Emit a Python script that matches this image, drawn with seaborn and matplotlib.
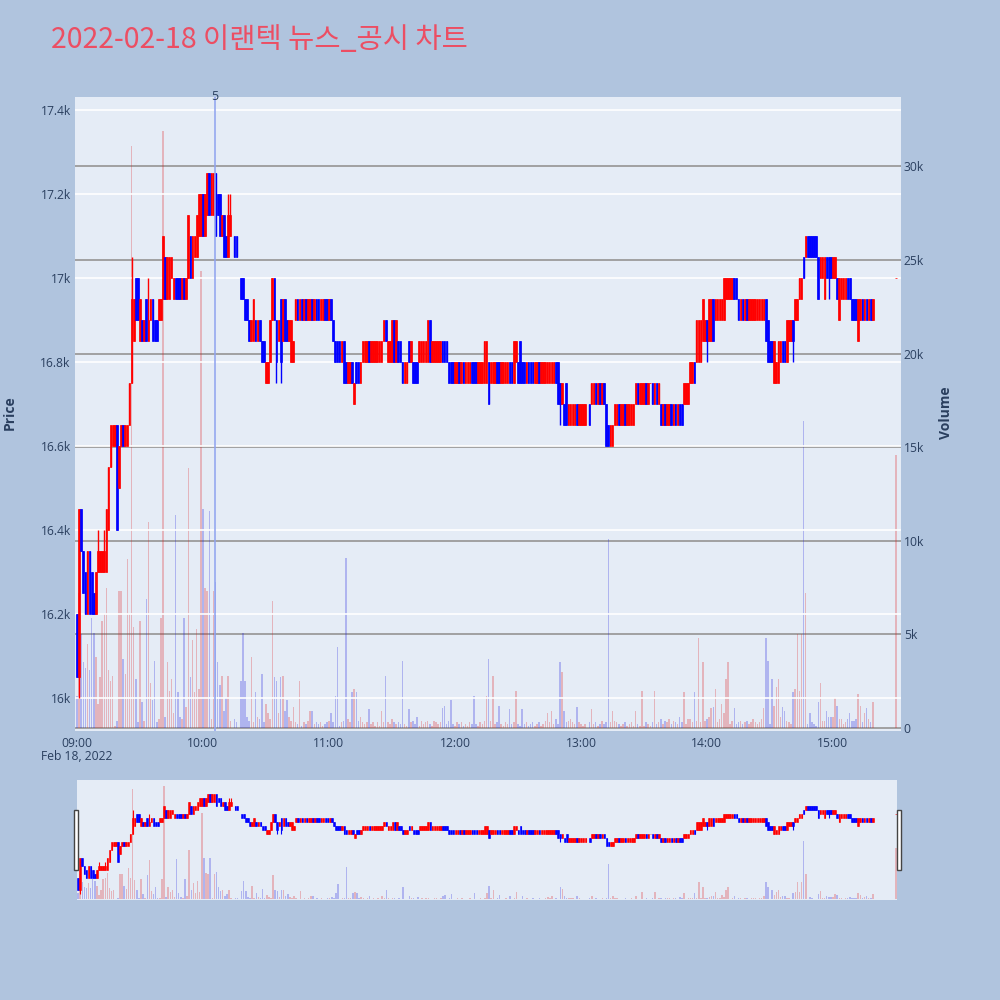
import matplotlib
matplotlib.use("Agg")
import matplotlib.pyplot as plt
import matplotlib.transforms as mtransforms
from matplotlib.patches import Rectangle
import numpy as np
import pandas as pd
import seaborn as sns

# ---------------- data (price in ticks: price = BASE_PRICE + TICK * value) -------------
BASE_PRICE = 16000
TICK = 50
title = "2022-02-18 이랜텍 뉴스_공시 차트"

open_ticks = [
    4, 1, 9, 7, 6, 4, 7, 6, 5, 4,
    6, 6, 6, 6, 6, 8, 11, 12, 12, 13,
    10, 12, 13, 12, 12, 13, 15, 17, 20, 20,
    17, 18, 17, 19, 17, 18, 19, 18, 18, 18,
    18, 19, 21, 19, 19, 20, 19, 20, 20, 20,
    19, 20, 19, 20, 22, 20, 21, 21, 22, 22,
    24, 22, 23, 25, 23, 23, 25, 24, 24, 22,
    23, 22, 21, 22, None, 22, 22, None, 20, 20,
    19, 19, 18, 17, 17, 18, 17, 18, 17, 17,
    15, 15, 16, 18, 20, 18, 17, 19, 17, 19,
    18, 17, 16, 16, 18, 19, 18, 19, 18, 19,
    18, 18, 19, 18, 19, 19, 18, 18, 19, 19,
    18, 19, 18, 17, 17, 17, 16, 17, 16, 15,
    15, 16, 14, 16, 16, 15, 16, 16, 16, 17,
    16, 16, 16, 16, 16, 16, 17, 18, 16, 16,
    16, 18, 16, 17, 17, 16, 15, 15, 17, 16,
    16, 16, 16, 16, 16, 16, 16, 16, 18, 16,
    16, 16, 16, 16, 17, 17, 17, 16, 16, 16,
    15, 15, 16, 15, 16, 15, 15, 15, 16, 16,
    16, 15, 15, 15, 15, 15, 16, 15, 15, 15,
    16, 16, 15, 15, 15, 15, 16, 16, 15, 16,
    16, 17, 16, 16, 15, 16, 16, 16, 15, 15,
    16, 15, 15, 15, 15, 15, 15, 15, 16, 16,
    15, 14, 14, 15, 13, 13, 13, 13, 14, 13,
    13, 13, 13, None, 14, 14, 14, 15, 14, 15,
    14, 15, 14, 13, 12, 12, 13, 13, 14, 13,
    13, 14, 13, 13, 13, 13, 14, 15, 14, 14,
    14, 15, 14, 15, 15, 14, 15, 14, 14, 13,
    14, 13, 13, 14, 13, 14, 13, 14, 14, 14,
    14, 14, 15, 15, 16, 16, 16, 16, 17, 17,
    18, 17, 17, 19, 18, 18, 18, 18, 18, 19,
    19, 19, 19, 20, 20, 19, 18, 19, 18, 19,
    18, 18, 18, 18, 18, 18, 18, 18, 19, 18,
    17, 17, 15, 15, 15, 16, 17, 17, 16, 17,
    17, 18, 18, 18, 19, 19, 21, 21, 22, 22,
    22, 22, 22, 21, 20, 20, 19, 21, 21, 21,
    20, 20, 20, 18, 19, 19, 19, 20, 20, 19,
    19, 19, 17, 18, 19, 18, 19, 18, 19, 18,
]
close_ticks = [
    1, 9, 7, 5, 4, 7, 4, 4, 4, 6,
    7, 7, 7, 7, 9, 11, 13, 13, 13, 8,
    12, 13, 12, 13, 13, 15, 19, 19, 18, 18,
    19, 17, 18, 17, 18, 19, 17, 17, 17, 19,
    19, 22, 19, 21, 21, 21, 20, 19, 19, 19,
    20, 19, 20, 23, 20, 22, 22, 23, 24, 24,
    22, 24, 25, 23, 25, 25, 22, 23, 22, 23,
    21, 21, 23, 23, None, 21, 21, None, 19, 19,
    18, 18, 17, 18, 19, 17, 18, 17, 16, 16,
    16, 16, 18, 20, 18, 16, 18, 16, 19, 17,
    17, 18, 18, 17, 19, 18, 19, 18, 19, 18,
    19, 19, 18, 19, 18, 18, 19, 19, 18, 18,
    19, 18, 17, 16, 16, 16, 17, 15, 15, 16,
    16, 15, 15, 15, 15, 16, 17, 17, 17, 16,
    17, 17, 17, 17, 17, 17, 18, 17, 17, 17,
    18, 16, 18, 16, 16, 15, 16, 16, 16, 17,
    15, 15, 15, 17, 17, 17, 17, 18, 16, 17,
    17, 17, 17, 17, 16, 16, 16, 15, 15, 15,
    16, 16, 15, 16, 15, 16, 16, 16, 15, 15,
    15, 16, 16, 16, 17, 17, 14, 16, 16, 16,
    15, 15, 16, 16, 16, 16, 15, 15, 17, 17,
    15, 15, 15, 15, 16, 15, 15, 15, 16, 16,
    15, 16, 16, 16, 16, 16, 16, 16, 15, 14,
    14, 15, 13, 13, 14, 14, 14, 14, 13, 14,
    14, 14, 14, None, 13, 15, 15, 14, 15, 14,
    15, 14, 12, 12, 13, 13, 14, 14, 13, 14,
    14, 13, 14, 14, 14, 14, 15, 14, 15, 15,
    15, 14, 15, 15, 14, 15, 14, 15, 13, 14,
    13, 14, 14, 13, 14, 13, 14, 13, 13, 15,
    15, 15, 16, 16, 15, 18, 18, 18, 19, 18,
    17, 19, 19, 17, 19, 19, 19, 19, 20, 20,
    20, 20, 20, 19, 19, 18, 19, 18, 19, 18,
    19, 19, 19, 19, 19, 19, 19, 19, 17, 16,
    16, 16, 17, 16, 17, 17, 16, 16, 18, 18,
    18, 17, 19, 19, 20, 20, 20, 22, 21, 21,
    21, 21, 21, 19, 21, 21, 21, 20, 20, 20,
    21, 21, 19, 20, 20, 20, 20, 19, 19, 18,
    18, 18, 19, 19, 18, 19, 18, 19, 18, 19,
]
# explicit wick extremes where the wick extends beyond the body
wick_high = {10: 8, 13: 8, 26: 21, 34: 20, 72: 24, 73: 24}
wick_low = {1: 0, 95: 15, 97: 15, 230: 13, 300: 16, 341: 16, 358: 19}

# volume in thousands of shares, per minute
volume_k = [
    1.7, 7.2, 5.0, 3.5, 3.2, 4.5, 3.1, 5.9, 5.1, 3.8,
    1.3, 2.7, 5.7, 6.1, 7.5, 3.1, 2.5, 2.8, 0.1, 0.4,
    7.3, 7.3, 3.7, 2.9, 9.0, 6.1, 31.1, 5.4, 2.6, 0.3,
    5.7, 1.4, 0.4, 6.9, 11.0, 2.4, 1.5, 3.6, 0.3, 0.5,
    5.9, 31.9, 0.6, 3.5, 2.0, 2.6, 0.8, 11.4, 1.9, 0.6,
    0.5, 5.9, 1.1, 13.9, 2.7, 4.7, 1.9, 5.3, 2.1, 24.4,
    11.7, 7.5, 7.3, 11.6, 0.5, 7.3, 7.8, 3.5, 2.3, 2.8,
    0.9, 1.6, 2.8, 0.4, 0.0, 0.5, 0.3, 0.0, 2.5, 5.1,
    2.5, 0.6, 0.4, 3.8, 0.3, 1.9, 0.6, 0.5, 2.9, 0.3,
    1.3, 0.8, 0.5, 6.8, 2.7, 2.5, 0.8, 2.7, 2.8, 0.9,
    1.5, 0.6, 0.4, 1.1, 0.3, 0.2, 2.5, 0.1, 0.3, 0.2,
    0.4, 0.9, 0.9, 0.2, 0.3, 0.2, 0.3, 0.1, 0.2, 0.3,
    0.4, 0.8, 0.3, 1.7, 4.3, 0.1, 0.3, 0.4, 9.1, 0.5,
    0.3, 1.9, 2.1, 1.9, 0.4, 0.6, 0.3, 0.2, 0.3, 1.0,
    0.2, 0.3, 0.1, 0.3, 0.1, 0.9, 0.3, 2.8, 0.3, 0.2,
    0.5, 0.3, 0.2, 0.3, 0.2, 3.6, 0.2, 0.1, 1.0, 0.3,
    0.4, 0.2, 0.6, 0.1, 0.4, 0.2, 0.3, 0.4, 0.2, 0.1,
    0.4, 0.3, 0.2, 0.3, 1.05, 1.2, 0.2, 0.4, 1.5, 0.2,
    0.1, 0.3, 0.2, 0.3, 0.1, 0.2, 0.1, 0.3, 0.2, 1.7,
    0.2, 0.1, 0.3, 0.2, 0.4, 1.7, 3.7, 0.4, 2.8, 0.2,
    0.3, 1.2, 0.2, 0.1, 0.3, 0.2, 1.0, 0.2, 0.3, 2.0,
    0.2, 0.1, 1.0, 0.2, 0.3, 0.1, 0.2, 0.3, 0.1, 0.2,
    0.3, 0.1, 0.2, 0.4, 0.8, 0.3, 0.9, 0.2, 0.5, 0.2,
    3.5, 3.0, 0.9, 0.3, 0.4, 0.5, 0.3, 0.2, 1.1, 0.3,
    0.2, 0.1, 0.2, 0.0, 0.3, 1.0, 0.2, 0.3, 0.1, 0.2,
    0.4, 0.2, 0.3, 10.1, 0.3, 0.9, 0.4, 0.3, 0.2, 0.1,
    0.2, 0.3, 0.1, 0.2, 0.3, 0.1, 0.9, 0.2, 0.1, 2.0,
    0.1, 0.3, 0.2, 0.1, 0.3, 2.0, 0.2, 0.3, 0.5, 0.2,
    0.4, 0.3, 0.5, 0.2, 0.4, 0.3, 0.2, 0.6, 0.3, 1.9,
    0.2, 0.5, 0.5, 0.3, 1.9, 0.4, 4.8, 0.3, 3.5, 0.4,
    0.5, 0.6, 1.05, 1.1, 2.1, 0.3, 0.5, 1.3, 0.8, 2.6,
    3.5, 0.2, 0.4, 1.05, 0.2, 0.3, 0.4, 0.2, 0.3, 0.4,
    0.2, 0.3, 0.5, 0.3, 0.2, 0.3, 0.5, 1.05, 4.8, 3.6,
    0.2, 2.6, 1.2, 2.2, 2.6, 0.6, 1.1, 0.9, 0.4, 0.3,
    0.2, 1.9, 2.1, 5.0, 2.0, 5.0, 16.4, 7.2, 0.2, 0.8,
    0.3, 0.2, 0.1, 1.4, 2.4, 0.4, 0.4, 0.9, 0.6, 0.6,
    0.6, 1.6, 1.2, 0.5, 0.5, 0.2, 0.3, 0.5, 0.8, 0.4,
    0.4, 0.5, 1.8, 1.2, 0.3, 0.8, 1.05, 0.5, 0.3, 1.4,
]
# closing single-price auction at 15:30
auction_minute = 390
auction_open_tick = 20
auction_close_tick = 20
auction_volume_k = 14.6

news_minute = 65.7
news_label = "5"

time_tick_minutes = [0, 60, 120, 180, 240, 300, 360]
time_tick_labels = ["09:00", "10:00", "11:00", "12:00", "13:00", "14:00", "15:00"]
date_label = "Feb 18, 2022"
price_ticks = [16000, 16200, 16400, 16600, 16800, 17000, 17200, 17400]
price_tick_labels = ["16k", "16.2k", "16.4k", "16.6k", "16.8k", "17k", "17.2k", "17.4k"]
volume_ticks = [0, 5000, 10000, 15000, 20000, 25000, 30000]
volume_tick_labels = ["0", "5k", "10k", "15k", "20k", "25k", "30k"]

# ---------------- table ----------------
minutes = list(range(len(open_ticks))) + [auction_minute]
o_all = open_ticks + [auction_open_tick]
c_all = close_ticks + [auction_close_tick]
v_all = volume_k + [auction_volume_k]
rows = []
for m, o, c, v in zip(minutes, o_all, c_all, v_all):
    if o is None:
        continue
    hi = wick_high.get(m, max(o, c))
    lo = wick_low.get(m, min(o, c))
    rows.append(dict(minute=m,
                     open=BASE_PRICE + TICK * o, close=BASE_PRICE + TICK * c,
                     high=BASE_PRICE + TICK * hi, low=BASE_PRICE + TICK * lo,
                     volume=v * 1000.0,
                     direction="up" if c >= o else "down"))
df = pd.DataFrame(rows)

# ---------------- style ----------------
sns.set_style("white")
plt.rcParams["font.family"] = ["Open Sans", "DejaVu Sans"]
FIG_BG = "#B0C4DE"
PLOT_BG = "#E5ECF6"
TXT = "#2a3f5f"
UP, DOWN = "#FF0000", "#0000FF"
VOL_PAL = {"up": UP, "down": DOWN}

fig = plt.figure(figsize=(10, 10), dpi=100, facecolor=FIG_BG)

PRICE_LIM = (15921, 17431)
VOL_LIM = (-160, 33700)
X_LIM = (-0.95, 392.4)


def draw_candles(ax, body_w, edge_lw, wick_lw):
    for _, r in df.iterrows():
        col = UP if r.direction == "up" else DOWN
        ax.vlines(r.minute, r.low, r.high, color=col, lw=wick_lw, zorder=3)
        ax.bar(r.minute, r.close - r.open, bottom=r.open, width=body_w,
               color=col, edgecolor=col, linewidth=edge_lw, zorder=4)


def draw_volume(ax, width):
    sns.barplot(data=df, x="minute", y="volume", hue="direction",
                hue_order=["up", "down"], palette=VOL_PAL, native_scale=True,
                dodge=False, width=width, errorbar=None, legend=False,
                alpha=0.27, linewidth=0, ax=ax)


# ---------------- main panel ----------------
ax_vol = fig.add_axes([0.075, 0.269, 0.826, 0.634])
ax_vol.set_facecolor(PLOT_BG)
draw_volume(ax_vol, 0.7)
ax_vol.set_ylim(*VOL_LIM)
ax_vol.grid(axis="y", color="#9b9b9b", lw=1.3, zorder=0)
ax_vol.grid(axis="x", visible=False)
ax_vol.set_axisbelow(True)
ax_vol.set_xlabel("")
ax_vol.set_ylabel("")

ax_price = ax_vol.twinx()
ax_price.patch.set_visible(False)
ax_price.set_ylim(*PRICE_LIM)
ax_price.set_yticks(price_ticks)
ax_price.set_yticklabels(price_tick_labels)
ax_price.grid(axis="y", color="white", lw=1.2, zorder=0)
ax_price.set_axisbelow(True)
draw_candles(ax_price, 0.78, 0.5, 1.0)

# put volume scale on the right, price scale on the left
ax_vol.yaxis.tick_right()
ax_vol.set_yticks(volume_ticks)
ax_vol.set_yticklabels(volume_tick_labels)
ax_price.yaxis.tick_left()

# news marker
ax_price.axvline(news_minute, color="#8fa3ef", lw=1.4, alpha=0.8, zorder=5)
trans = mtransforms.blended_transform_factory(ax_price.transData, ax_price.transAxes)
ax_price.text(news_minute, 1.0, news_label, transform=trans, ha="center",
              va="center", fontsize=9, color=TXT, zorder=6)

for a in (ax_vol, ax_price):
    a.set_xlim(*X_LIM)
    for s in a.spines.values():
        s.set_visible(False)
    a.tick_params(axis="both", length=0, labelsize=8.7, colors=TXT)
ax_vol.tick_params(axis="y", pad=2)
ax_price.tick_params(axis="y", pad=3)
ax_vol.set_xticks(time_tick_minutes)
ax_vol.set_xticklabels(time_tick_labels)
ax_vol.tick_params(axis="x", pad=4)

fig.text(0.077, 0.243, date_label, ha="center", va="center", fontsize=8.7, color=TXT)
fig.text(0.010, 0.587, "Price", rotation=90, ha="center", va="center",
         fontsize=10, fontweight="bold", color=TXT)
fig.text(0.946, 0.587, "Volume", rotation=90, ha="center", va="center",
         fontsize=10, fontweight="bold", color=TXT)
fig.text(0.051, 0.960, title, ha="left", va="center", fontsize=20.5,
         color="#EC4E63", family=["Noto Sans CJK KR", "DejaVu Sans"])

# ---------------- range slider ----------------
sl_vol = fig.add_axes([0.077, 0.100, 0.820, 0.120])
sl_vol.set_facecolor(PLOT_BG)
draw_volume(sl_vol, 0.7)
sl_vol.set_ylim(*VOL_LIM)
sl_price = sl_vol.twinx()
sl_price.patch.set_visible(False)
sl_price.set_ylim(*PRICE_LIM)
draw_candles(sl_price, 0.78, 0.4, 0.8)
for a in (sl_vol, sl_price):
    a.set_xlim(-0.5, 390.5)
    a.set_xticks([])
    a.set_yticks([])
    a.set_xlabel("")
    a.set_ylabel("")
    for s in a.spines.values():
        s.set_visible(False)

for hx in (0.0735, 0.8965):
    fig.patches.append(Rectangle((hx, 0.130), 0.004, 0.060, transform=fig.transFigure,
                                 facecolor="white", edgecolor="#444444", lw=1.0,
                                 zorder=10))

fig.savefig("out.png", dpi=100, facecolor=FIG_BG)
